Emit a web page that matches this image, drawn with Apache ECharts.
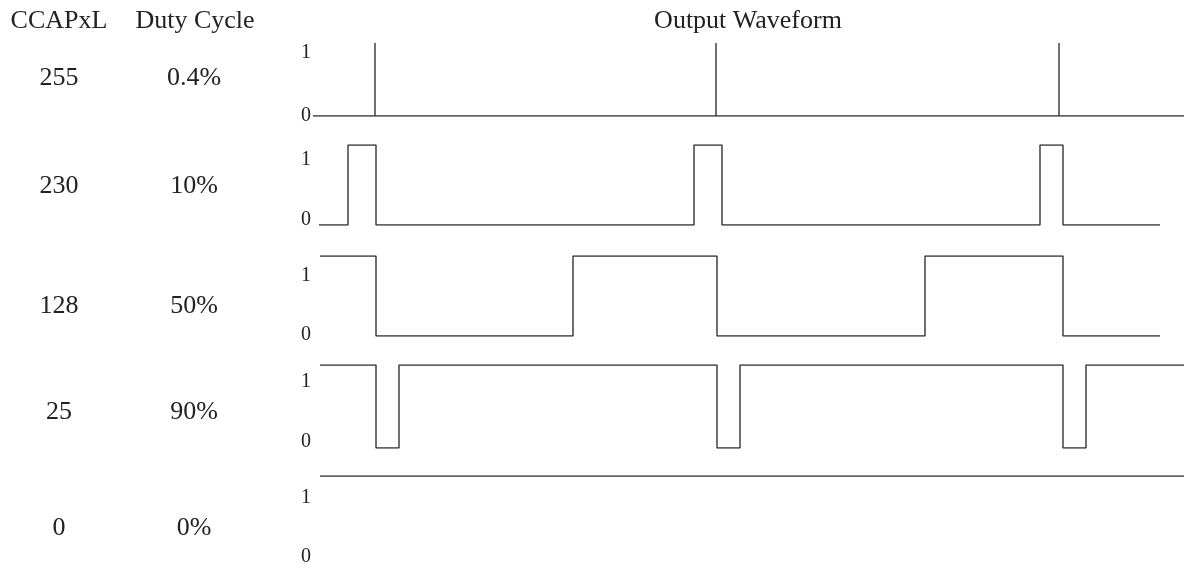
<!DOCTYPE html>
<html>
<head>
<meta charset="utf-8">
<title>PCA PWM duty cycle</title>
<script src="https://cdn.jsdelivr.net/npm/echarts@6/dist/echarts.min.js"></script>
<style>
  html, body { margin: 0; padding: 0; background: #fff; }
  #ec { width: 1184px; height: 570px; }
</style>
</head>
<body>
<div id="ec"></div>
<script>
  // row labels
  var ccapValues = ['255', '230', '128', '25', '0'];
  var dutyCycles = ['0.4%', '10%', '50%', '90%', '0%'];
  var levelLabels = [0, 1];

  // waveforms: [time, level from this time on]
  var wave255 = [[0, 0], [62, 1], [62, 0], [403, 1], [403, 0], [746, 1], [746, 0], [871, 0]];
  var wave230 = [[6, 0], [35, 1], [63, 0], [381, 1], [409, 0], [727, 1], [750, 0], [847, 0]];
  var wave128 = [[7, 1], [63, 0], [260, 1], [404, 0], [612, 1], [750, 0], [847, 0]];
  var wave25 = [[7, 1], [63, 0], [86, 1], [404, 0], [427, 1], [750, 0], [773, 1], [871, 1]];
  var wave0 = [[7, 1], [871, 1]];
  var waves = [wave255, wave230, wave128, wave25, wave0];

  var FONT = 'Liberation Serif';
  var INK = '#222';

  // panel layout: signal high / low pixel, and where the "1" / "0" labels sit
  var panels = [
    {hi: 43, lo: 116, l1: 53, l0: 116, row: 78},
    {hi: 145, lo: 225, l1: 160, l0: 220, row: 186},
    {hi: 256, lo: 336, l1: 276, l0: 335, row: 306},
    {hi: 365, lo: 448, l1: 382, l0: 442, row: 412},
    {hi: 476, lo: 560, l1: 498, l0: 557, row: 528}
  ];

  var grid = [], xAxis = [], yAxis = [], series = [], graphic = [];

  function label(text, x, y) {
    return {
      type: 'text', x: x, y: y,
      style: {text: text, font: '26px ' + FONT, fill: INK, textAlign: 'center', textVerticalAlign: 'middle'}
    };
  }

  panels.forEach(function (p, i) {
    var h = p.lo - p.hi;
    var range = h / (p.l0 - p.l1);
    var lmin = -(p.lo - p.l0) / (p.l0 - p.l1);

    grid.push({left: 313, right: 0, top: p.hi, height: h, outerBoundsMode: 'none', containLabel: false});
    xAxis.push({
      type: 'value', gridIndex: i, min: 0, max: 871, show: false
    });
    // signal axis
    yAxis.push({
      type: 'value', gridIndex: i, min: 0, max: 1, show: false
    });
    // label axis
    yAxis.push({
      type: 'value', gridIndex: i, position: 'left', min: lmin, max: lmin + range,
      axisLine: {show: false},
      axisTick: {show: false},
      splitLine: {show: false},
      axisLabel: {
        customValues: levelLabels,
        margin: 2,
        fontFamily: FONT,
        fontSize: 20,
        color: INK
      }
    });
    series.push({
      type: 'line',
      xAxisIndex: i,
      yAxisIndex: i * 2,
      step: 'end',
      symbol: 'none',
      silent: true,
      lineStyle: {color: '#333', width: 1.4},
      data: waves[i]
    });
    graphic.push(label(ccapValues[i], 59, p.row));
    graphic.push(label(dutyCycles[i], 194, p.row));
  });

  graphic.push(label('CCAPxL', 59, 21), label('Duty Cycle', 195, 21), label('Output Waveform', 748, 21));

  var ec = echarts.init(document.getElementById('ec'));
  ec.setOption({
    animation: false,
    backgroundColor: '#fff',
    grid: grid,
    xAxis: xAxis,
    yAxis: yAxis,
    series: series,
    graphic: graphic
  });
  window.addEventListener('resize', ec.resize);
</script>
</body>
</html>
